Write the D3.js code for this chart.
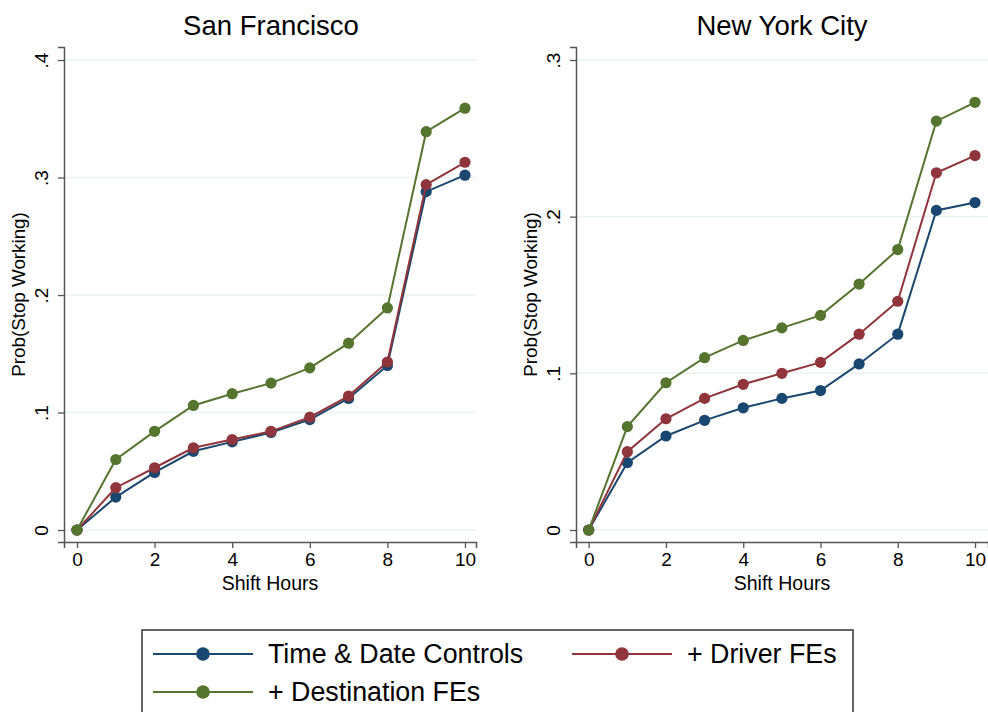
<!DOCTYPE html>
<html>
<head>
<meta charset="utf-8">
<script src="https://cdn.jsdelivr.net/npm/d3@7/dist/d3.min.js"></script>
<style>
  html, body { margin: 0; padding: 0; background: #fff; }
  svg { display: block; font-family: "Liberation Sans", Arial, Helvetica, sans-serif; }
</style>
</head>
<body>
<svg id="chart" width="988" height="712"></svg>
<script>
// Shift hours on the x axis
const hours = [0, 1, 2, 3, 4, 5, 6, 7, 8, 9, 10];
const xTicks = [0, 2, 4, 6, 8, 10];

// San Francisco estimates
const sfTimeDate    = [0, 0.028, 0.049, 0.067, 0.075, 0.083, 0.094, 0.112, 0.140, 0.288, 0.302];
const sfDriver      = [0, 0.036, 0.053, 0.070, 0.077, 0.084, 0.096, 0.114, 0.143, 0.294, 0.313];
const sfDestination = [0, 0.060, 0.084, 0.106, 0.116, 0.125, 0.138, 0.159, 0.189, 0.339, 0.359];
const sfYTicks = [0, 0.1, 0.2, 0.3, 0.4];
const sfYTickLabels = ["0", ".1", ".2", ".3", ".4"];

// New York City estimates
const nyTimeDate    = [0, 0.043, 0.060, 0.070, 0.078, 0.084, 0.089, 0.106, 0.125, 0.204, 0.209];
const nyDriver      = [0, 0.050, 0.071, 0.084, 0.093, 0.100, 0.107, 0.125, 0.146, 0.228, 0.239];
const nyDestination = [0, 0.066, 0.094, 0.110, 0.121, 0.129, 0.137, 0.157, 0.179, 0.261, 0.273];
const nyYTicks = [0, 0.1, 0.2, 0.3];
const nyYTickLabels = ["0", ".1", ".2", ".3"];

const seriesNames = ["Time & Date Controls", "+ Driver FEs", "+ Destination FEs"];
const seriesColors = ["#1a476f", "#90353b", "#55752f"];

const svg = d3.select("#chart");

function drawPanel(cfg) {
  const x = d3.scaleLinear().domain(cfg.xDomain).range([cfg.left, cfg.right]);
  const y = d3.scaleLinear().domain(cfg.yDomain).range([cfg.bottom, cfg.top]);
  const g = svg.append("g");

  // light horizontal grid
  g.append("g").selectAll("line").data(cfg.yTicks).join("line")
    .attr("x1", cfg.left).attr("x2", cfg.right)
    .attr("y1", d => y(d)).attr("y2", d => y(d))
    .attr("stroke", "#eaf2f3").attr("stroke-width", 1.5);

  // y axis
  const yAxis = g.append("g").attr("transform", `translate(${cfg.left},0)`)
    .call(d3.axisLeft(y).tickValues(cfg.yTicks)
      .tickFormat((d, i) => cfg.yTickLabels[i]).tickSize(6).tickPadding(0));
  yAxis.select(".domain").attr("stroke", "#555").attr("stroke-width", 1.5);
  yAxis.selectAll(".tick line").attr("stroke", "#555").attr("stroke-width", 1.3);
  yAxis.selectAll(".tick text")
    .attr("x", 0).attr("dy", null)
    .attr("text-anchor", "middle")
    .attr("transform", "translate(-23,0) rotate(-90)")
    .attr("dominant-baseline", "central")
    .attr("font-size", 19).attr("fill", "#000");

  // x axis
  const xAxis = g.append("g").attr("transform", `translate(0,${cfg.bottom})`)
    .call(d3.axisBottom(x).tickValues(xTicks).tickSize(6).tickPadding(5));
  xAxis.select(".domain").attr("stroke", "#555").attr("stroke-width", 1.5);
  xAxis.selectAll(".tick line").attr("stroke", "#555").attr("stroke-width", 1.3);
  xAxis.selectAll(".tick text").attr("font-size", 19).attr("fill", "#000");

  // titles
  g.append("text").attr("x", cfg.titleX).attr("y", 35)
    .attr("text-anchor", "middle").attr("font-size", 27.5).attr("fill", "#000")
    .text(cfg.title);
  g.append("text").attr("x", (cfg.left + cfg.right) / 2).attr("y", 590)
    .attr("text-anchor", "middle").attr("font-size", 19.5).attr("fill", "#000")
    .text("Shift Hours");
  g.append("text")
    .attr("transform", `translate(${cfg.left - 46},${(cfg.top + cfg.bottom) / 2}) rotate(-90)`)
    .attr("text-anchor", "middle").attr("dominant-baseline", "central")
    .attr("font-size", 18.8).attr("fill", "#000")
    .text("Prob(Stop Working)");

  // series: connected lines with filled circle markers
  const line = d3.line().x((d, i) => x(hours[i])).y(d => y(d));
  cfg.series.forEach((vals, k) => {
    const sg = g.append("g");
    sg.append("path").attr("d", line(vals))
      .attr("fill", "none").attr("stroke", seriesColors[k]).attr("stroke-width", 2);
    sg.selectAll("circle").data(vals).join("circle")
      .attr("cx", (d, i) => x(hours[i])).attr("cy", d => y(d)).attr("r", 5.6)
      .attr("fill", seriesColors[k]);
  });
}

// San Francisco: 0 → x 77, 10 → x 465; 0 → y 530, .4 → y 60
drawPanel({
  title: "San Francisco", titleX: 271,
  left: 64, right: 476, top: 47, bottom: 542,
  xDomain: [-0.335, 10.284], yDomain: [-0.0102, 0.4111],
  yTicks: sfYTicks, yTickLabels: sfYTickLabels,
  series: [sfTimeDate, sfDriver, sfDestination]
});

// New York City: 0 → x 588.7, 10 → x 975; 0 → y 530, .3 → y 60
drawPanel({
  title: "New York City", titleX: 782,
  left: 576, right: 988, top: 47, bottom: 542,
  xDomain: [-0.329, 10.336], yDomain: [-0.00766, 0.3083],
  yTicks: nyYTicks, yTickLabels: nyYTickLabels,
  series: [nyTimeDate, nyDriver, nyDestination]
});

// legend
const legend = svg.append("g");
legend.append("rect").attr("x", 142).attr("y", 630).attr("width", 711).attr("height", 100)
  .attr("fill", "#fff").attr("stroke", "#333").attr("stroke-width", 1.5);
const legendItems = [
  { k: 0, x0: 153, y: 654 },
  { k: 1, x0: 572, y: 654 },
  { k: 2, x0: 153, y: 692 }
];
legendItems.forEach(it => {
  const c = seriesColors[it.k];
  legend.append("line").attr("x1", it.x0).attr("x2", it.x0 + 100)
    .attr("y1", it.y).attr("y2", it.y).attr("stroke", c).attr("stroke-width", 2);
  legend.append("circle").attr("cx", it.x0 + 50).attr("cy", it.y).attr("r", 6.8).attr("fill", c);
  legend.append("text").attr("x", it.x0 + 115).attr("y", it.y)
    .attr("dominant-baseline", "central").attr("font-size", 26.8).attr("fill", "#000")
    .text(seriesNames[it.k]);
});
</script>
</body>
</html>
